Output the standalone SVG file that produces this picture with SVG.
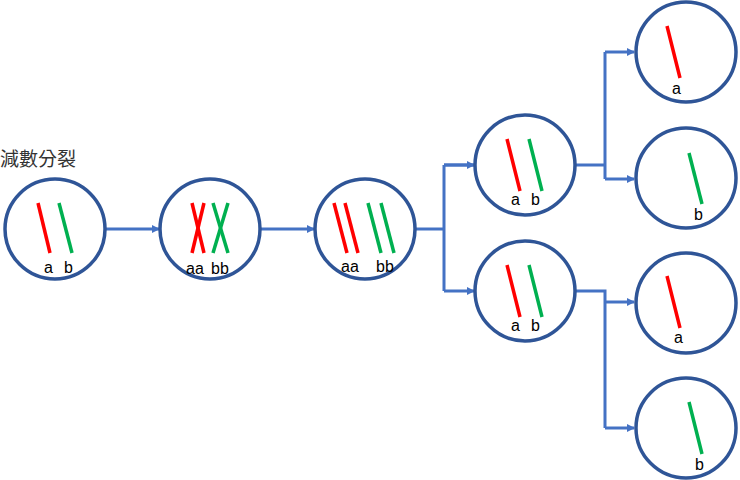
<svg xmlns="http://www.w3.org/2000/svg" width="740" height="480" viewBox="0 0 740 480">
<style>
.cell{fill:#fff;stroke:#2F5597;stroke-width:3.5}
.r{stroke:#FF0000;stroke-width:3.5}
.g{stroke:#00B050;stroke-width:3.5}
.c{fill:none;stroke:#4472C4;stroke-width:3}
text{font-family:"Liberation Sans","Noto Sans CJK TC",sans-serif;font-size:16px;fill:#000}
.t{font-size:19px;fill:#333}
</style>
<defs><marker id="ah" markerWidth="8" markerHeight="8" refX="7" refY="4" orient="auto" markerUnits="userSpaceOnUse"><path d="M0,0L8,4L0,8z" fill="#4472C4"/></marker></defs>
<rect width="740" height="480" fill="#fff"/>
<text class="t" x="0" y="166">減數分裂</text>
<g id="connectors">
<path class="c" d="M105,229H159" marker-end="url(#ah)"/>
<path class="c" d="M260,229H314" marker-end="url(#ah)"/>
<path class="c" d="M415,229H444"/>
<path class="c" d="M444,165V291M444,165H474M444,291H474" marker-end="url(#ah)"/>
<path class="c" d="M444,165H474" marker-end="url(#ah)"/>
<path class="c" d="M576,165H605M605,52V179"/>
<path class="c" d="M605,52H634" marker-end="url(#ah)"/>
<path class="c" d="M605,179H634" marker-end="url(#ah)"/>
<path class="c" d="M576,291H605V428"/>
<path class="c" d="M605,302H634" marker-end="url(#ah)"/>
<path class="c" d="M605,428H634" marker-end="url(#ah)"/>
</g>
<g id="n1"><circle class="cell" cx="55" cy="229" r="50"/>
<line class="r" x1="38" y1="203" x2="50" y2="253"/><line class="g" x1="59" y1="203" x2="72" y2="253"/>
<text x="44" y="273">a</text><text x="64" y="273">b</text></g>
<g id="n2"><circle class="cell" cx="210" cy="229" r="50"/>
<line class="r" x1="192" y1="203" x2="204" y2="253"/><line class="r" x1="204" y1="203" x2="192" y2="253"/>
<line class="g" x1="213" y1="203" x2="228" y2="253"/><line class="g" x1="228" y1="203" x2="213" y2="253"/>
<text x="186" y="274">aa</text><text x="211" y="274">bb</text></g>
<g id="n3"><circle class="cell" cx="365" cy="229" r="50"/>
<line class="r" x1="334" y1="203" x2="347" y2="253"/><line class="r" x1="345" y1="203" x2="358" y2="253"/>
<line class="g" x1="368" y1="203" x2="381" y2="253"/><line class="g" x1="381" y1="203" x2="394" y2="253"/>
<text x="341" y="272">aa</text><text x="376" y="272">bb</text></g>
<g id="n4"><circle class="cell" cx="525" cy="165" r="50"/>
<line class="r" x1="507" y1="139" x2="520" y2="191"/><line class="g" x1="529" y1="139" x2="542" y2="191"/>
<text x="511" y="205">a</text><text x="531" y="205">b</text></g>
<g id="n5"><circle class="cell" cx="525" cy="291" r="50"/>
<line class="r" x1="507" y1="265" x2="520" y2="317"/><line class="g" x1="529" y1="265" x2="542" y2="317"/>
<text x="511" y="331">a</text><text x="531" y="331">b</text></g>
<g id="n6"><circle class="cell" cx="686" cy="52" r="50"/>
<line class="r" x1="667" y1="26" x2="680" y2="78"/><text x="672" y="94">a</text></g>
<g id="n7"><circle class="cell" cx="686" cy="178" r="50"/>
<line class="g" x1="689" y1="153" x2="702" y2="204"/><text x="694" y="220">b</text></g>
<g id="n8"><circle class="cell" cx="686" cy="303" r="50"/>
<line class="r" x1="667" y1="276" x2="680" y2="328"/><text x="674" y="343">a</text></g>
<g id="n9"><circle class="cell" cx="686" cy="428" r="50"/>
<line class="g" x1="689" y1="402" x2="702" y2="454"/><text x="695" y="470">b</text></g>
</svg>
